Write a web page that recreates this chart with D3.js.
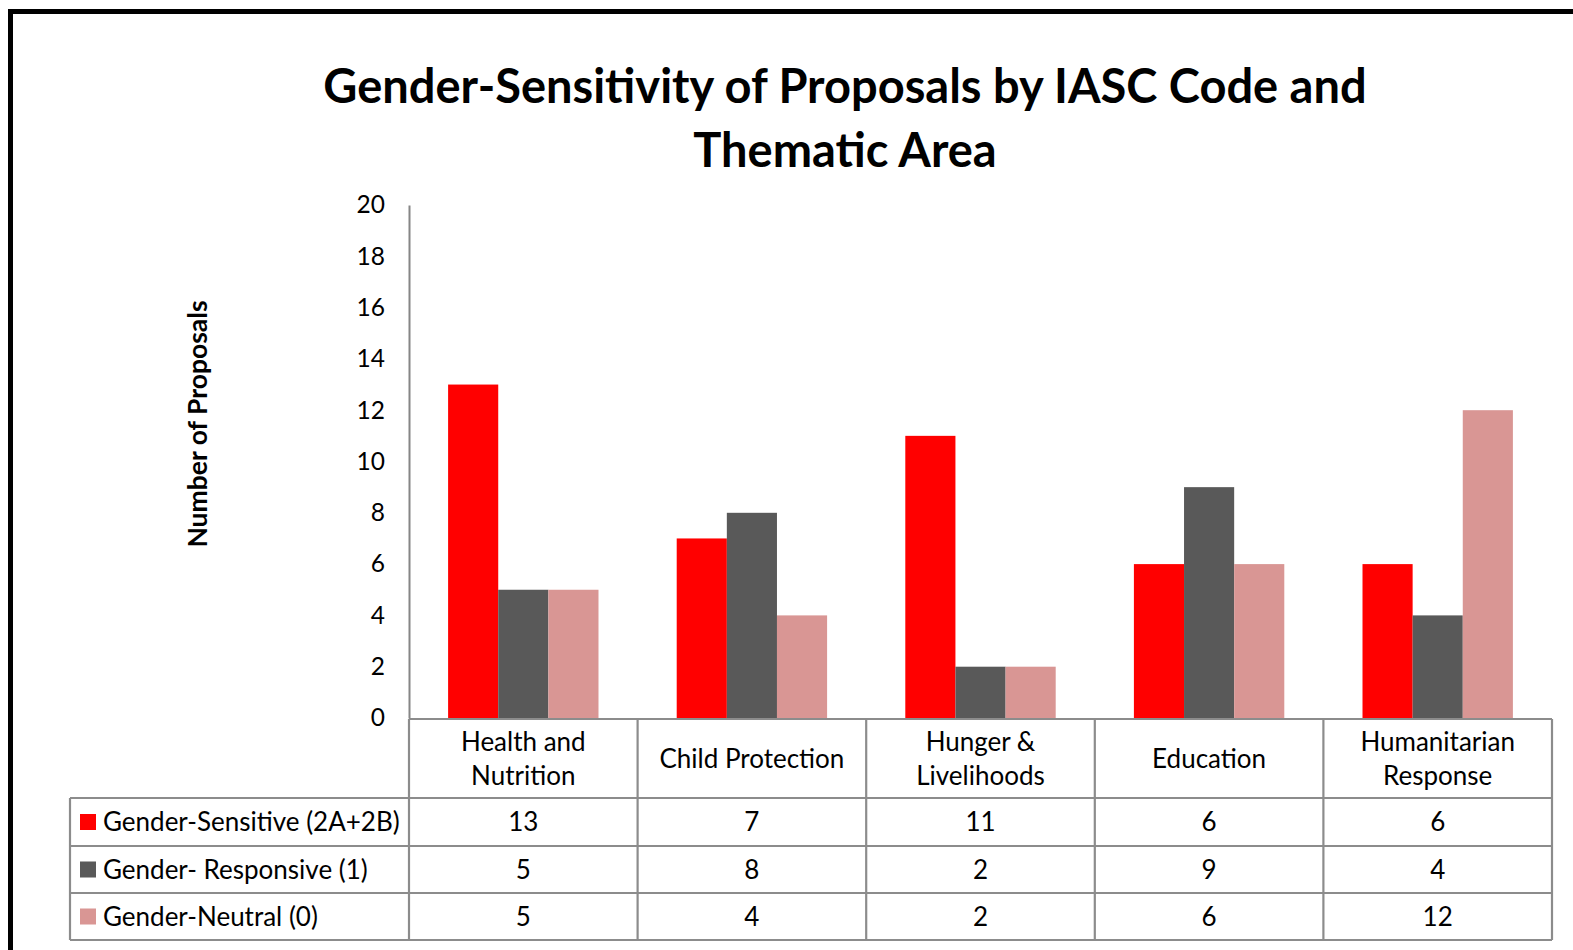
<!DOCTYPE html>
<html>
<head>
<meta charset="utf-8">
<title>Gender-Sensitivity of Proposals</title>
<script src="https://cdn.jsdelivr.net/npm/d3@7"></script>
<style>
  body { margin: 0; background: #fff; }
  svg text { font-family: Lato, "Open Sans", sans-serif; fill: #000; }
</style>
</head>
<body>
<svg id="mainsvg" width="1573" height="950"></svg>
<script>
// data
const categories = [["Health and", "Nutrition"], ["Child Protection"], ["Hunger &", "Livelihoods"], ["Education"], ["Humanitarian", "Response"]];
const seriesNames = ["Gender-Sensitive (2A+2B)", "Gender- Responsive (1)", "Gender-Neutral (0)"];
const sensitive = [13, 7, 11, 6, 6];
const responsive = [5, 8, 2, 9, 4];
const neutral = [5, 4, 2, 6, 12];
const colors = ["#ff0000", "#595959", "#d99694"];
const yTicks = [0, 2, 4, 6, 8, 10, 12, 14, 16, 18, 20];

const values = [sensitive, responsive, neutral];
const catKeys = categories.map(c => c.join(" "));

const svg = d3.select('#mainsvg');

// outer frame (runs off the right / bottom edge)
svg.append('rect').attr('x', 10.5).attr('y', 11.5).attr('width', 1600).attr('height', 1000)
  .attr('fill', 'none').attr('stroke', '#000').attr('stroke-width', 5);

// title
const title = svg.append('text').attr('text-anchor', 'middle').attr('font-weight', 'bold').attr('font-size', 47);
title.append('tspan').attr('x', 845).attr('y', 103).text('Gender-Sensitivity of Proposals by IASC Code and');
title.append('tspan').attr('x', 845).attr('y', 167).text('Thematic Area');

// scales
const plotLeft = 409, plotRight = 1552, y0 = 718, y20 = 205;
const xScale = d3.scaleBand().domain(catKeys).range([plotLeft, plotRight]).padding(0);
const xSub = d3.scaleBand().domain(d3.range(3)).range([0, xScale.bandwidth()]).paddingInner(0).paddingOuter(0.78);
const yScale = d3.scaleLinear().domain([0, 20]).range([y0, y20]);

// y axis
const yAxis = d3.axisLeft(yScale).tickValues(yTicks).tickSize(0).tickPadding(24);
const yAxisGroup = svg.append('g').attr('transform', `translate(${plotLeft}, 0)`).call(yAxis);
yAxisGroup.select('.domain').attr('stroke', '#868686').attr('stroke-width', 2);
yAxisGroup.selectAll('.tick text').attr('font-size', 24.5).attr('font-family', 'Lato, sans-serif').attr('fill', '#000');

svg.append('text').attr('transform', 'rotate(-90)').attr('x', -424).attr('y', 207)
  .attr('text-anchor', 'middle').attr('font-weight', 'bold').attr('font-size', 26.5).text('Number of Proposals');

// bars
const barData = [];
values.forEach((vals, s) => vals.forEach((v, i) => barData.push({ s, cat: catKeys[i], v })));
svg.append('g').selectAll('rect').data(barData).join('rect')
  .attr('x', d => xScale(d.cat) + xSub(d.s))
  .attr('width', xSub.bandwidth())
  .attr('y', d => yScale(d.v))
  .attr('height', d => yScale(0) - yScale(d.v))
  .attr('fill', d => colors[d.s]);

// data table
const headerTop = 719, rowTops = [798, 846, 893], tableBottom = 940, legendLeft = 70;
const grid = svg.append('g').attr('stroke', '#8c8c8c').attr('stroke-width', 2.2).attr('fill', 'none');
// horizontal lines
grid.append('line').attr('x1', plotLeft).attr('x2', plotRight).attr('y1', headerTop).attr('y2', headerTop);
[...rowTops, tableBottom].forEach(y => grid.append('line').attr('x1', legendLeft).attr('x2', plotRight).attr('y1', y).attr('y2', y));
// vertical lines
const colEdges = catKeys.map(k => xScale(k)).concat([plotRight]);
colEdges.forEach(x => grid.append('line').attr('x1', x).attr('x2', x).attr('y1', headerTop).attr('y2', tableBottom));
grid.append('line').attr('x1', legendLeft).attr('x2', legendLeft).attr('y1', rowTops[0]).attr('y2', tableBottom);

// header labels
const headerMid = (headerTop + rowTops[0]) / 2;
categories.forEach((lines, i) => {
  const cx = xScale(catKeys[i]) + xScale.bandwidth() / 2;
  const t = svg.append('text').attr('text-anchor', 'middle').attr('font-size', 26);
  lines.forEach((ln, j) => {
    t.append('tspan').attr('x', cx)
      .attr('y', headerMid + 9 + (j - (lines.length - 1) / 2) * 34)
      .text(ln);
  });
});

// rows
const rowBottoms = [rowTops[1], rowTops[2], tableBottom];
seriesNames.forEach((name, s) => {
  const mid = (rowTops[s] + rowBottoms[s]) / 2;
  svg.append('rect').attr('x', 80).attr('y', mid - 8).attr('width', 16).attr('height', 16).attr('fill', colors[s]);
  svg.append('text').attr('x', 103).attr('y', mid + 9).attr('font-size', 26).text(name);
  values[s].forEach((v, i) => {
    svg.append('text').attr('x', xScale(catKeys[i]) + xScale.bandwidth() / 2).attr('y', mid + 9)
      .attr('text-anchor', 'middle').attr('font-size', 26).text(v);
  });
});
</script>
</body>
</html>
